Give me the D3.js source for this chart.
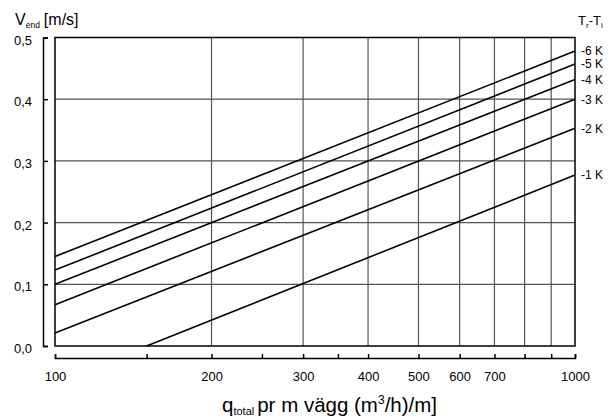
<!DOCTYPE html>
<html>
<head>
<meta charset="utf-8">
<script src="https://cdn.jsdelivr.net/npm/d3@7"></script>
<style>
  body { margin: 0; background: #fff; }
  svg { font-family: "Liberation Sans", Arial, sans-serif; }
</style>
</head>
<body>
<svg id="chart" width="610" height="416"></svg>
<script>
// Data: each curve is a straight line on the log axis
const seriesLabels = ["-6 K", "-5 K", "-4 K", "-3 K", "-2 K", "-1 K"];
const qStart = [100, 100, 100, 100, 100, 150];
const vStart = [0.145, 0.123, 0.100, 0.067, 0.021, 0.0];
const qEnd = [1000, 1000, 1000, 1000, 1000, 1000];
const vEnd = [0.478, 0.457, 0.432, 0.400, 0.353, 0.277];

const xTicks = [100, 150, 200, 250, 300, 350, 400, 500, 600, 700, 800, 900, 1000];
const xTickLabels = [100, 200, 300, 400, 500, 600, 700, 1000];
const xGrid = [200, 300, 400, 500, 600, 700, 800, 900];
const yTicks = [0, 0.1, 0.2, 0.3, 0.4, 0.5];
const yGrid = [0.1, 0.2, 0.3, 0.4];

const svg = d3.select("#chart");
const W = +svg.attr("width");
const H = +svg.attr("height");
const margin = { top: 37.5, right: 35, bottom: 70, left: 55 };
const innerW = W - margin.left - margin.right;
const innerH = H - margin.top - margin.bottom;

const g = svg.append("g").attr("transform", `translate(${margin.left},${margin.top})`);

// scales
const x = d3.scaleLog().domain([100, 1000]).range([0, innerW]);
const y = d3.scaleLinear().domain([0, 0.5]).range([innerH, 0]);

// grid
g.append("g")
  .selectAll("line")
  .data(xGrid)
  .join("line")
  .attr("x1", d => x(d)).attr("x2", d => x(d))
  .attr("y1", 0).attr("y2", innerH)
  .attr("stroke", "#555")
  .attr("stroke-width", 1.2);

g.append("g")
  .selectAll("line")
  .data(yGrid)
  .join("line")
  .attr("x1", 0).attr("x2", innerW)
  .attr("y1", d => y(d)).attr("y2", d => y(d))
  .attr("stroke", "#555")
  .attr("stroke-width", 1.2);

// frame
g.append("rect")
  .attr("width", innerW)
  .attr("height", innerH)
  .attr("fill", "none")
  .attr("stroke", "#000")
  .attr("stroke-width", 1.5);

// curves
const line = d3.line().x(d => x(d[0])).y(d => y(d[1]));
const series = seriesLabels.map((lab, i) => ({
  label: lab,
  pts: [[qStart[i], vStart[i]], [qEnd[i], vEnd[i]]]
}));

g.selectAll("path.curve")
  .data(series)
  .join("path")
  .attr("class", "curve")
  .attr("d", d => line(d.pts))
  .attr("fill", "none")
  .attr("stroke", "#000")
  .attr("stroke-width", 1.6);

// curve labels on the right
g.selectAll("text.lab")
  .data(series)
  .join("text")
  .attr("class", "lab")
  .attr("x", innerW + 6)
  .attr("y", d => y(d.pts[1][1]))
  .attr("dy", "0.36em")
  .style("font-size", "12px")
  .text(d => d.label);

// y axis, set off to the left of the frame
const fmt = d3.format(".1f");
const yAxis = d3.axisLeft(y)
  .tickValues(yTicks)
  .tickSize(-5)
  .tickPadding(11)
  .tickFormat(d => fmt(d).replace(".", ","));

const ya = g.append("g")
  .attr("transform", "translate(-12,0)")
  .call(yAxis);
ya.selectAll("path, line").attr("stroke", "#000").attr("stroke-width", 1.5);
ya.selectAll("text")
  .attr("dy", "0.5em")
  .style("font-size", "13px")
  .style("fill", "#000")
  .style("font-family", "Liberation Sans, Arial, sans-serif");

// x axis, set off below the frame
const xAxis = d3.axisBottom(x)
  .tickValues(xTicks)
  .tickSize(-4)
  .tickSizeOuter(-4)
  .tickPadding(14)
  .tickFormat(d => xTickLabels.includes(d) ? d : "");

const xa = g.append("g")
  .attr("transform", `translate(0,${innerH + 12})`)
  .call(xAxis);
xa.selectAll("path, line").attr("stroke", "#000").attr("stroke-width", 1.5);
xa.selectAll("text")
  .style("font-size", "13px")
  .style("fill", "#000")
  .style("font-family", "Liberation Sans, Arial, sans-serif");

// y axis title
const yt = svg.append("text")
  .attr("x", 15)
  .attr("y", 25)
  .style("font-size", "16px");
yt.append("tspan").text("V");
yt.append("tspan").attr("dy", 3).style("font-size", "8.5px").text("end");
yt.append("tspan").attr("dy", -3).attr("dx", 4).text("[m/s]");

// series title
const st = svg.append("text")
  .attr("x", 578)
  .attr("y", 25)
  .style("font-size", "13px");
st.append("tspan").text("T");
st.append("tspan").attr("dy", 3).style("font-size", "8px").text("r");
st.append("tspan").attr("dy", -3).text("-T");
st.append("tspan").attr("dy", 3).style("font-size", "8px").text("i");

// x axis title
const xt = svg.append("text")
  .attr("x", 222)
  .attr("y", 412)
  .style("font-size", "20.5px");
xt.append("tspan").text("q");
xt.append("tspan").attr("dy", 3).style("font-size", "11px").text("total");
xt.append("tspan").attr("dy", -3).attr("dx", 3).text("pr m vägg (m");
xt.append("tspan").attr("dy", -8).style("font-size", "12px").text("3");
xt.append("tspan").attr("dy", 8).text("/h)/m]");
</script>
</body>
</html>
